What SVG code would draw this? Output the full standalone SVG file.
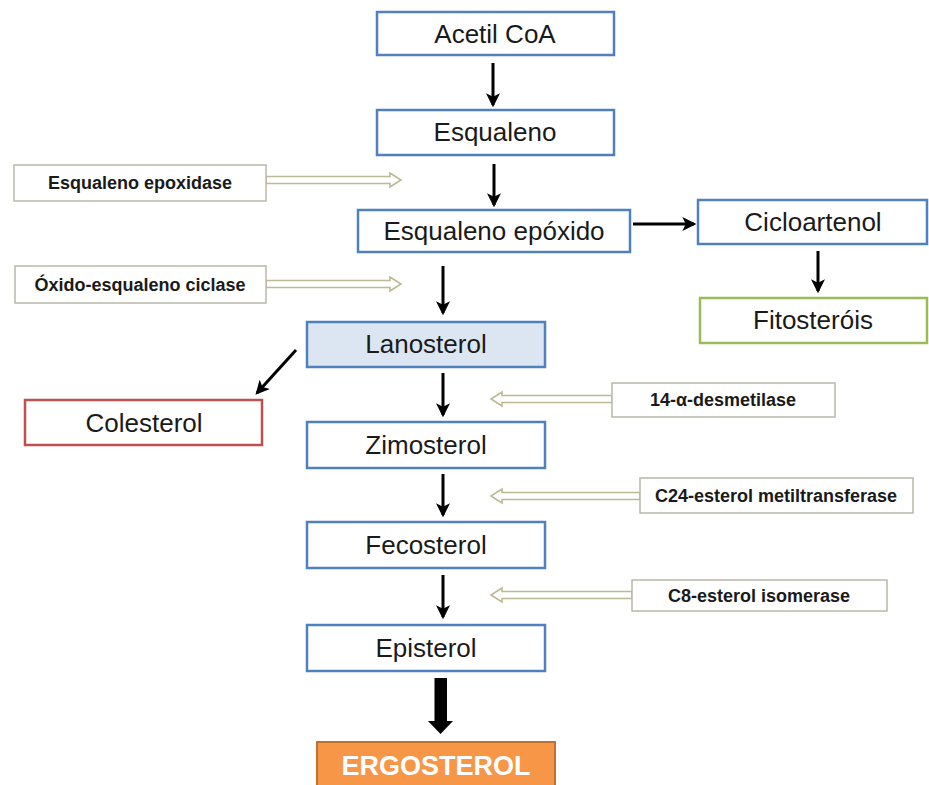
<svg xmlns="http://www.w3.org/2000/svg" width="929" height="785" viewBox="0 0 929 785">
<defs>
<style>
.n{fill:#fff;stroke:#4f81bd;stroke-width:2.5}
.t{font-family:"Liberation Sans",Arial,sans-serif;font-size:26px;fill:#1a1a1a;text-anchor:middle}
.e{fill:#fff;stroke:#b8b8a8;stroke-width:1.5}
.et{font-family:"Liberation Sans",Arial,sans-serif;font-size:18px;font-weight:bold;fill:#1a1a1a;text-anchor:middle}
.h{fill:#fff;stroke:#bdb993;stroke-width:1.6}
.a{stroke:#000;stroke-width:3;fill:none;marker-end:url(#ah)}
</style>
<marker id="ah" viewBox="0 0 12 12" refX="10" refY="6" markerWidth="14" markerHeight="14" markerUnits="userSpaceOnUse" orient="auto">
<path d="M0,0 L12,6 L0,12 L3,6 z" fill="#000"/>
</marker>
</defs>
<rect width="929" height="785" fill="#fff"/>
<g id="connectors">
<line class="a" x1="493" y1="63" x2="493" y2="105"/>
<line class="a" x1="494" y1="164" x2="494" y2="205"/>
<line class="a" x1="633" y1="224" x2="694" y2="224"/>
<line class="a" x1="818" y1="251" x2="818" y2="291"/>
<line class="a" x1="443" y1="266" x2="443" y2="313"/>
<line class="a" x1="296" y1="350" x2="257" y2="393"/>
<line class="a" x1="443" y1="373" x2="443" y2="415"/>
<line class="a" x1="443" y1="474" x2="443" y2="515"/>
<line class="a" x1="443" y1="575" x2="443" y2="617"/>
<polygon points="434.5,678 447,678 447,721 453,721 440.5,734 428,721 434.5,721" fill="#000"/>
<polygon class="h" points="266,176.5 390,176.5 390,173 401,180 390,187 390,183.5 266,183.5"/>
<polygon class="h" points="266,280.5 390,280.5 390,277 401,284 390,291 390,287.5 266,287.5"/>
<polygon class="h" points="612,395.5 502,395.5 502,392 491,399 502,406 502,402.5 612,402.5"/>
<polygon class="h" points="640,492.5 502,492.5 502,489 491,496 502,503 502,499.5 640,499.5"/>
<polygon class="h" points="632,591.5 502,591.5 502,588 491,595 502,602 502,598.5 632,598.5"/>
</g>
<g id="acetil"><rect class="n" x="377" y="12" width="237" height="43"/><text class="t" x="495" y="43">Acetil CoA</text></g>
<g id="esqualeno"><rect class="n" x="377" y="110" width="237" height="45"/><text class="t" x="495" y="141">Esqualeno</text></g>
<g id="epoxido"><rect class="n" x="358" y="210" width="272" height="42"/><text class="t" x="494" y="240">Esqualeno epóxido</text></g>
<g id="cicloartenol"><rect class="n" x="698" y="200" width="229" height="44"/><text class="t" x="813" y="231">Cicloartenol</text></g>
<g id="fitosterois"><rect class="n" style="stroke:#9bbb59" x="700" y="298" width="227" height="45"/><text class="t" x="813" y="329">Fitosteróis</text></g>
<g id="lanosterol"><rect class="n" style="fill:#dce6f2" x="307" y="322" width="238" height="45"/><text class="t" x="426" y="353">Lanosterol</text></g>
<g id="colesterol"><rect class="n" style="stroke:#c0504d" x="25" y="400" width="237" height="45"/><text class="t" x="144" y="432">Colesterol</text></g>
<g id="zimosterol"><rect class="n" x="307" y="422" width="238" height="46"/><text class="t" x="426" y="454">Zimosterol</text></g>
<g id="fecosterol"><rect class="n" x="307" y="522" width="238" height="46"/><text class="t" x="426" y="554">Fecosterol</text></g>
<g id="episterol"><rect class="n" x="307" y="625" width="238" height="46"/><text class="t" x="426" y="657">Episterol</text></g>
<g id="ergosterol"><rect x="317" y="742" width="238" height="50" fill="#f79646" stroke="#c0712f" stroke-width="2"/><text class="t" style="font-weight:bold;fill:#fff;font-size:27px" x="436" y="775">ERGOSTEROL</text></g>
<g id="enz-epoxidase"><rect class="e" x="14" y="165" width="252" height="36"/><text class="et" x="140" y="189">Esqualeno epoxidase</text></g>
<g id="enz-ciclase"><rect class="e" x="15" y="266" width="251" height="37"/><text class="et" x="140" y="291">Óxido-esqualeno ciclase</text></g>
<g id="enz-desmetilase"><rect class="e" x="612" y="383" width="223" height="34"/><text class="et" x="723" y="406">14-α-desmetilase</text></g>
<g id="enz-c24"><rect class="e" x="640" y="478" width="273" height="35"/><text class="et" x="776" y="502">C24-esterol metiltransferase</text></g>
<g id="enz-c8"><rect class="e" x="632" y="580" width="255" height="31"/><text class="et" x="759" y="602">C8-esterol isomerase</text></g>
</svg>
